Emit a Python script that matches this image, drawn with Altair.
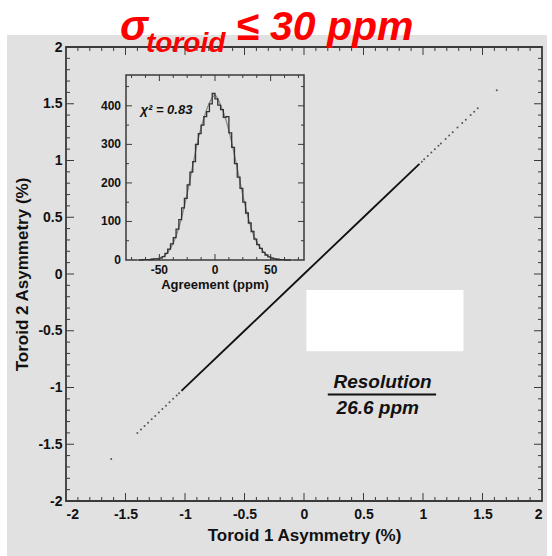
import altair as alt
import pandas as pd

# ---------------- data ----------------
# main scatter: Toroid 1 vs Toroid 2 asymmetry (%)
t1_dense = [-1.03, -0.5, 0.0, 0.5, 0.97]
t2_dense = [-1.03, -0.5, 0.0, 0.5, 0.97]
t1_sparse = [-1.62, -1.40, -1.37, -1.34, -1.31, -1.28, -1.25, -1.22, -1.19, -1.16,
             -1.13, -1.10, -1.07, -1.05, 0.99, 1.01, 1.04, 1.07, 1.10, 1.13, 1.15,
             1.19, 1.22, 1.25, 1.29, 1.33, 1.36, 1.40, 1.43, 1.46, 1.62]
t2_sparse = [-1.63, -1.40, -1.37, -1.34, -1.31, -1.28, -1.25, -1.22, -1.19, -1.16,
             -1.13, -1.10, -1.07, -1.05, 0.99, 1.01, 1.04, 1.07, 1.10, 1.13, 1.15,
             1.19, 1.22, 1.25, 1.29, 1.33, 1.36, 1.40, 1.43, 1.46, 1.62]

# inset histogram: agreement (ppm)
hist_center = [-68.75, -66.25, -63.75, -61.25, -58.75, -56.25, -53.75, -51.25, -48.75, -46.25,
               -43.75, -41.25, -38.75, -36.25, -33.75, -31.25, -28.75, -26.25, -23.75, -21.25,
               -18.75, -16.25, -13.75, -11.25, -8.75, -6.25, -3.75, -1.25, 1.25, 3.75,
               6.25, 8.75, 11.25, 13.75, 16.25, 18.75, 21.25, 23.75, 26.25, 28.75,
               31.25, 33.75, 36.25, 38.75, 41.25, 43.75, 46.25, 48.75, 51.25, 53.75,
               56.25, 58.75, 61.25, 63.75, 66.25, 68.75]
hist_count = [0, 0, 1, 1, 1, 2, 3, 3, 5, 9,
              17, 28, 42, 58, 80, 105, 135, 160, 195, 228,
              255, 300, 328, 350, 372, 385, 405, 432, 418, 402,
              390, 370, 372, 330, 292, 250, 215, 186, 150, 122,
              96, 74, 54, 40, 30, 20, 13, 8, 5, 3,
              2, 1, 1, 0, 0, 0]
fit_x = [-70, -65, -60, -55, -50, -45, -40, -35, -30, -25, -20, -15, -10, -5, 0,
         5, 10, 15, 20, 25, 30, 35, 40, 45, 50, 55, 60, 65, 70]
fit_y = [0, 0.5, 1, 2.5, 5, 12, 30, 62, 110, 172, 245, 315, 368, 408, 428,
         402, 362, 305, 238, 168, 108, 62, 35, 17, 7, 3, 1, 0.3, 0]

# tick values
main_major = [-2, -1.5, -1, -0.5, 0, 0.5, 1, 1.5, 2]
main_minor = [round(-2 + 0.1 * i, 1) for i in range(41)]
inset_x_major = [-50, 0, 50]
inset_x_minor = [-75, -62.5, -37.5, -25, -12.5, 12.5, 25, 37.5, 62.5, 75]
inset_y_major = [0, 100, 200, 300, 400]
inset_y_minor = [50, 150, 250, 350, 450]

# ---------------- layout ----------------
FONT = "Liberation Sans"
W, H = 476, 454
XD, YD = [-2, 2], [-2, 2]
IXD, IYD = [-80, 80], [0, 480]
IXR, IYR = [60, 238], [213, 28]

AX = "#3a3a3a"
INK = "#111111"


def sx():
    return alt.Scale(domain=XD, nice=False, zero=False)


def sy():
    return alt.Scale(domain=YD, nice=False, zero=False)


def isx():
    return alt.Scale(domain=IXD, range=IXR, nice=False, zero=False)


def isy():
    return alt.Scale(domain=IYD, range=IYR, nice=False, zero=False)


def mdx(v):
    return alt.datum(v, scale=sx(), type="quantitative", axis=None)


def mdy(v):
    return alt.datum(v, scale=sy(), type="quantitative", axis=None)


def idx(v):
    return alt.datum(v, scale=isx(), type="quantitative", axis=None)


def idy(v):
    return alt.datum(v, scale=isy(), type="quantitative", axis=None)


def enc_main(**kw):
    return dict(x=alt.X("x:Q", scale=sx(), axis=None), y=alt.Y("y:Q", scale=sy(), axis=None), **kw)


def enc_inset(**kw):
    return dict(x=alt.X("x:Q", scale=isx(), axis=None), y=alt.Y("y:Q", scale=isy(), axis=None), **kw)


one = pd.DataFrame({"a": [0]})

# gray backdrop
bg = alt.Chart(one).mark_rect(fill="#e1e1e1").encode(
    x=alt.value(-59), x2=alt.value(481), y=alt.value(-12), y2=alt.value(509)
)

# main ticks (inward, all four sides)
LXM, LYM = 8 / 119, 8 / 113.5
rows = []
for t in main_minor:
    major = t in main_major
    lx = LXM if major else LXM / 2
    ly = LYM if major else LYM / 2
    if -2 < t < 2:
        rows += [
            dict(x=t, x2=t, y=-2, y2=-2 + ly),
            dict(x=t, x2=t, y=2, y2=2 - ly),
            dict(x=-2, x2=-2 + lx, y=t, y2=t),
            dict(x=2, x2=2 - lx, y=t, y2=t),
        ]
main_ticks = alt.Chart(pd.DataFrame(rows)).mark_rule(color=AX, strokeWidth=1).encode(
    **enc_main(x2="x2:Q", y2="y2:Q")
)

# main data
dense = alt.Chart(pd.DataFrame({"x": t1_dense, "y": t2_dense})).mark_line(
    color=INK, strokeWidth=1.8
).encode(**enc_main())
sparse = alt.Chart(pd.DataFrame({"x": t1_sparse, "y": t2_sparse})).mark_circle(
    color="#555555", size=4, opacity=1
).encode(**enc_main())

# white box
wbox = alt.Chart(one).mark_rect(fill="white").encode(
    x=mdx(0.02), x2=alt.datum(1.34), y=mdy(-0.14), y2=alt.datum(-0.68)
)

# Resolution annotation
res_txt = alt.Chart(one).mark_text(
    text="Resolution", font=FONT, fontSize=19, fontWeight="bold", fontStyle="italic",
    align="center", baseline="alphabetic", color=INK
).encode(x=mdx(0.66), y=mdy(-1.0))
res_val = alt.Chart(one).mark_text(
    text="26.6 ppm", font=FONT, fontSize=19, fontWeight="bold", fontStyle="italic",
    align="center", baseline="alphabetic", color=INK
).encode(x=mdx(0.62), y=mdy(-1.235))
res_line = alt.Chart(one).mark_rule(color=INK, strokeWidth=2).encode(
    x=mdx(0.20), x2=alt.datum(1.11), y=mdy(-1.062)
)

# ---------------- inset ----------------
irows = []
LIX, LIY = 6 / 1.1125, 6 / 0.3854
for t in inset_x_major + inset_x_minor:
    ly = LIY if t in inset_x_major else LIY / 2
    irows += [dict(x=t, x2=t, y=0, y2=ly), dict(x=t, x2=t, y=480, y2=480 - ly)]
for t in inset_y_major + inset_y_minor:
    lx = LIX if t in inset_y_major else LIX / 2
    if t > 0:
        irows += [dict(x=-80, x2=-80 + lx, y=t, y2=t), dict(x=80, x2=80 - lx, y=t, y2=t)]
inset_ticks = alt.Chart(pd.DataFrame(irows)).mark_rule(color=AX, strokeWidth=1).encode(
    **enc_inset(x2="x2:Q", y2="y2:Q")
)

inset_frame = alt.Chart(one).mark_rect(fillOpacity=0, stroke=AX, strokeWidth=1.5).encode(
    x=idx(-80), x2=alt.datum(80), y=idy(0), y2=alt.datum(480)
)

fit = alt.Chart(pd.DataFrame({"x": fit_x, "y": fit_y})).mark_line(
    color="#8a8a8a", strokeWidth=1.3, interpolate="monotone"
).encode(**enc_inset())
hist = alt.Chart(pd.DataFrame({"x": hist_center, "y": hist_count})).mark_line(
    color="#333333", strokeWidth=1.3, interpolate="step"
).encode(**enc_inset())

iy_lab = alt.Chart(pd.DataFrame({"x": [-80] * len(inset_y_major), "y": inset_y_major,
                                 "t": [str(v) for v in inset_y_major]})).mark_text(
    font=FONT, fontSize=12, fontWeight="bold", align="right", baseline="middle", dx=-5,
    color=INK
).encode(**enc_inset(text="t:N"))
ix_lab = alt.Chart(pd.DataFrame({"x": inset_x_major, "y": [0] * len(inset_x_major),
                                 "t": [str(v) for v in inset_x_major]})).mark_text(
    font=FONT, fontSize=12, fontWeight="bold", align="center", baseline="top", dy=5,
    color=INK
).encode(**enc_inset(text="t:N"))
ix_title = alt.Chart(one).mark_text(
    text="Agreement (ppm)", font=FONT, fontSize=13, fontWeight="bold", align="center",
    baseline="top", dy=19, color=INK
).encode(x=idx(0), y=idy(0))
chi = alt.Chart(one).mark_text(
    text="χ² = 0.83", font=FONT, fontSize=13, fontWeight="bold", fontStyle="italic",
    align="left", baseline="alphabetic", color=INK
).encode(x=idx(-67), y=idy(379))

# ---------------- frame + axes ----------------
lab_expr = "toString(datum.value)"
frame = alt.Chart(one).mark_rect(fillOpacity=0, stroke=AX, strokeWidth=1.8).encode(
    x=alt.datum(-2, scale=sx(), type="quantitative",
                axis=alt.Axis(orient="bottom", values=main_major, labelExpr=lab_expr,
                              title="Toroid 1 Asymmetry (%)", ticks=False, domain=False,
                              grid=False, labelPadding=6, titlePadding=6, zindex=1,
                              labelFont=FONT, labelFontSize=14, labelFontWeight="bold",
                              labelColor=INK, titleFont=FONT, titleFontSize=17,
                              titleFontWeight="bold", titleColor=INK)),
    x2=alt.datum(2),
    y=alt.datum(-2, scale=sy(), type="quantitative",
                axis=alt.Axis(orient="left", values=main_major, labelExpr=lab_expr,
                              title="Toroid 2 Asymmetry (%)", ticks=False, domain=False,
                              grid=False, labelPadding=4, titlePadding=6, zindex=1,
                              labelFont=FONT, labelFontSize=14, labelFontWeight="bold",
                              labelColor=INK, titleFont=FONT, titleFontSize=17,
                              titleFontWeight="bold", titleColor=INK)),
    y2=alt.datum(2),
)

# ---------------- title ----------------
RED = "#ff0000"
t_sigma = alt.Chart(one).mark_text(
    text="σ", font=FONT, fontSize=42, fontWeight="bold", fontStyle="italic", color=RED,
    align="left", baseline="alphabetic"
).encode(x=alt.value(54), y=alt.value(-7))
t_sub = alt.Chart(one).mark_text(
    text="toroid", font=FONT, fontSize=28, fontWeight="bold", fontStyle="italic", color=RED,
    align="left", baseline="alphabetic"
).encode(x=alt.value(80), y=alt.value(5))
t_rest = alt.Chart(one).mark_text(
    text="≤ 30 ppm", font=FONT, fontSize=41, fontWeight="bold", fontStyle="italic", color=RED,
    align="left", baseline="alphabetic"
).encode(x=alt.value(170), y=alt.value(-7))

chart = alt.layer(
    bg, main_ticks, dense, sparse, wbox, res_line, res_txt, res_val,
    inset_ticks, inset_frame, fit, hist, iy_lab, ix_lab, ix_title, chi,
    frame, t_sigma, t_sub, t_rest,
).resolve_scale(x="independent", y="independent").properties(
    width=W, height=H,
    autosize=alt.AutoSizeParams(type="none"),
    padding={"left": 66, "top": 47, "right": 10, "bottom": 55},
).configure_view(stroke=None).configure(background="white")

chart.save("out.html", embed_options={"renderer": "svg", "actions": False})
